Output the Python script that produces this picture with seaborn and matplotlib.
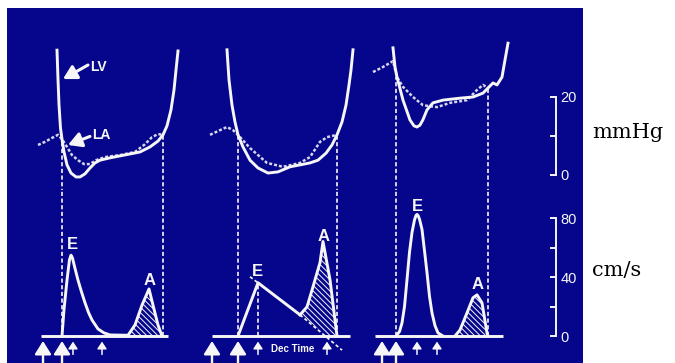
#import necessary libraries

import numpy as np
import matplotlib
matplotlib.use("Agg")
import matplotlib.pyplot as plt
import seaborn as sns

#chart data: time in ms from mitral valve opening, pressure in mmHg, flow velocity in cm/s

# panel 1 (normal)
t_lv1 = [-20, -16, -12, -6, 0, 8, 20, 36, 56, 72, 92, 112, 132, 152, 192, 232, 272, 312, 352, 384, 404, 420, 436, 448, 456, 464]
p_lv1 = [32, 24.5, 18, 12, 9.2, 5.9, 2.6, 0.5, -0.5, -0.5, 0.3, 1.8, 3.1, 3.8, 4.4, 4.9, 5.4, 5.9, 7.2, 8.7, 10.3, 12.6, 16.7, 21.8, 26.9, 31.8]
t_la1 = [-96, -68, -40, -16, 0, 20, 40, 64, 88, 112, 136, 172, 232, 292, 332, 360, 384, 404]
p_la1 = [7.7, 8.5, 9.5, 10.3, 9.2, 7.2, 5.1, 3.8, 2.8, 2.8, 3.8, 4.6, 5.1, 5.9, 7.9, 9.7, 10.5, 10.3]
t_e1 = [0, 8, 20, 30, 36, 42, 52, 64, 78, 92, 106, 120, 144, 168, 192, 264]
v_e1 = [0, 18, 38, 52, 55, 53, 46, 38, 30, 22.6, 16, 10.9, 4.8, 2.1, 0.7, 0.5]
t_a1 = [264, 292, 320, 348, 364, 384, 400]
v_a1 = [0.5, 7.5, 21, 32, 21, 7.5, 0]
a_lo1 = [0.5, 0, 0, 0, 0, 0, 0]

# panel 2 (impaired relaxation)
t_lv2 = [-44, -36, -24, -12, 0, 20, 48, 80, 120, 160, 208, 248, 288, 320, 352, 376, 396, 416, 432, 444, 452, 460]
p_lv2 = [32.1, 24.4, 17.9, 13.6, 10.3, 7.2, 3.8, 1.8, 0.5, 0.8, 2.1, 2.6, 3.1, 3.8, 5.6, 7.7, 10.3, 13.6, 17.9, 23.1, 26.9, 32.1]
t_la2 = [-112, -72, -44, -20, 0, 48, 116, 180, 248, 288, 328, 356, 396]
p_la2 = [10.3, 11.5, 12.3, 11.5, 10.3, 6.9, 3.1, 2.1, 3.1, 4.6, 8.5, 9.7, 10.3]
t_e2 = [0, 80, 248]
v_e2 = [0, 36.2, 14.4]
t_a2 = [248, 276, 300, 328, 340, 368, 396]
v_a2 = [14.4, 19.8, 33.5, 49.9, 64.3, 38.3, 0]
a_lo2 = [14.4, 10.8, 7.6, 4.0, 2.5, 0, 0]
t_dec2 = [248, 416]
v_dec2 = [14.4, -9.6]
t_dec2b = [48, 80]
v_dec2b = [40.3, 36.2]

# panel 3 (restrictive)
t_lv3 = [-12, -4, 4, 28, 56, 72, 84, 96, 108, 124, 148, 188, 256, 308, 348, 368, 388, 404, 424, 436, 448]
p_lv3 = [32.6, 27.7, 25.1, 19.2, 14.1, 12.6, 12.3, 12.8, 14.2, 16.7, 18.5, 19.2, 19.7, 20.0, 21.0, 22.3, 23.6, 23.1, 25.1, 29.5, 33.8]
t_la3 = [-92, -52, -12, 4, 28, 68, 108, 164, 216, 284, 324, 348, 368]
p_la3 = [26.4, 27.7, 29.2, 25.1, 22.6, 20.0, 17.9, 17.4, 18.5, 19.2, 21.8, 23.1, 22.3]
t_e3 = [0, 14, 24, 34, 44, 54, 64, 74, 80, 84, 88, 94, 104, 114, 124, 134, 144, 156, 168, 188]
v_e3 = [0, 3, 8.9, 20, 38.3, 57, 70.4, 79, 82, 82.7, 82, 79.5, 72.5, 58, 43.1, 27, 15.7, 7, 2.1, 0]
t_a3 = [236, 256, 284, 308, 324, 344, 364, 368]
v_a3 = [0, 4.1, 15.7, 26, 28, 22.6, 2.1, 0]
a_lo3 = [0, 0, 0, 0, 0, 0, 0, 0]

# per panel: valve opening/closing times and LA-LV crossover pressures
valve_t = [[0, 404], [0, 396], [0, 368]]
valve_p = [[9.2, 10.3], [10.3, 10.3], [25.1, 22.3]]
base_t = [[-84, 424], [-104, 448], [-84, 428]]
big_arrows = [[-76, 0], [-104, 0], [-56, 0]]
small_arrows = [[44, 160], [80, 356], [84, 164]]
e_label = [[42, 62], [76, 44], [84, 88]]
a_label = [[352, 38], [344, 68], [328, 35]]

p_ticks = [0, 10, 20]
p_ticklabels = ["0", "", "20"]
v_ticks = [0, 20, 40, 60, 80]
v_ticklabels = ["0", "", "40", "", "80"]

#styling
BLUE = "#06068c"
WHITE = "#f6f6f6"
LA_COL = "#d6d6ea"
W, H = 675, 363
plt.rcParams["font.family"] = ["Liberation Sans", "DejaVu Sans"]
plt.rcParams["hatch.linewidth"] = 0.7
plt.rcParams["hatch.color"] = WHITE

fig = plt.figure(figsize=(W / 100, H / 100), dpi=100, facecolor="white")


def px_axes(x0, y0, x1, y1):
    return fig.add_axes([x0 / W, 1 - y1 / H, (x1 - x0) / W, (y1 - y0) / H])


bg = px_axes(7, 8, 583, 363)
bg.set_facecolor(BLUE)
bg.set_xticks([])
bg.set_yticks([])
for s in bg.spines.values():
    s.set_visible(False)

P_LIM = (-(190 - 175) / 3.9, (175 - 8) / 3.9)
V_LIM = (-(363 - 336) / 1.47, (336 - 190) / 1.47)

lv = [(t_lv1, p_lv1), (t_lv2, p_lv2), (t_lv3, p_lv3)]
la = [(t_la1, p_la1), (t_la2, p_la2), (t_la3, p_la3)]
e_w = [(t_e1, v_e1), (t_e2, v_e2), (t_e3, v_e3)]
a_w = [(t_a1, v_a1, a_lo1), (t_a2, v_a2, a_lo2), (t_a3, v_a3, a_lo3)]
mvo_px = [62, 238, 396]


def curve(ax, t, y, **kw):
    sns.lineplot(x=t, y=y, ax=ax, sort=False, estimator=None, **kw)


def up_arrow(ax, t, y0, y1, big):
    if big:
        style, lw, ms = "-|>,head_length=0.8,head_width=0.5", 1.7, 10
    else:
        style, lw, ms = "-|>,head_length=0.6,head_width=0.4", 1.1, 7
    ax.annotate("", xy=(t, y1), xytext=(t, y0),
                arrowprops=dict(arrowstyle=style, color=WHITE, lw=lw,
                                mutation_scale=ms, shrinkA=0, shrinkB=0),
                annotation_clip=False)


for i in range(3):
    x0 = mvo_px[i]
    axp = px_axes(x0 - 60, 8, x0 + 120, 190)
    axv = px_axes(x0 - 60, 190, x0 + 120, 363)
    for ax, lim in [(axp, P_LIM), (axv, V_LIM)]:
        ax.set_xlim(-240, 480)
        ax.set_ylim(*lim)
        ax.patch.set_alpha(0)

    # pressures
    curve(axp, la[i][0], la[i][1], color=LA_COL, lw=1.8, linestyle=(0, (1.2, 0.8)))
    curve(axp, lv[i][0], lv[i][1], color=WHITE, lw=2.1)

    # valve events
    for t, p in zip(valve_t[i], valve_p[i]):
        axp.vlines(t, -20, p, color=WHITE, lw=1.2, linestyles=(0, (2.5, 1.5)))
        axv.vlines(t, 0, 200, color=WHITE, lw=1.2, linestyles=(0, (2.5, 1.5)))

    # mitral flow
    axv.hlines(0, base_t[i][0], base_t[i][1], color=WHITE, lw=2.1)
    curve(axv, e_w[i][0], e_w[i][1], color=WHITE, lw=2.1)
    ta, va, lo = a_w[i]
    axv.fill_between(ta, lo, va, facecolor="none", edgecolor=WHITE, hatch="\\\\\\\\\\\\", lw=0)
    curve(axv, ta, va, color=WHITE, lw=2.1)

    axv.text(e_label[i][0], e_label[i][1], "E", color=WHITE, fontsize=12,
             fontweight="bold", ha="center", va="center")
    axv.text(a_label[i][0], a_label[i][1], "A", color=WHITE, fontsize=12,
             fontweight="bold", ha="center", va="center")

    for t in big_arrows[i]:
        up_arrow(axv, t, V_LIM[0], -3.4, True)
    for t in small_arrows[i]:
        up_arrow(axv, t, -12.5, -3.8, False)

    if i == 0:
        axp.annotate("", xy=(4, 24.6), xytext=(104, 28.2),
                     arrowprops=dict(arrowstyle="-|>,head_length=0.8,head_width=0.45",
                                     color=WHITE, lw=2.2, mutation_scale=10,
                                     shrinkA=0, shrinkB=0))
        axp.text(112, 27.8, "LV", color=WHITE, fontsize=10, fontweight="bold",
                 ha="left", va="center")
        axp.annotate("", xy=(24, 7.7), xytext=(112, 9.9),
                     arrowprops=dict(arrowstyle="-|>,head_length=0.8,head_width=0.45",
                                     color=WHITE, lw=2.2, mutation_scale=10,
                                     shrinkA=0, shrinkB=0))
        axp.text(122, 10.3, "LA", color=WHITE, fontsize=10, fontweight="bold",
                 ha="left", va="center")
    if i == 1:
        curve(axv, t_dec2, v_dec2, color=WHITE, lw=1.2, linestyle=(0, (2, 1.5)))
        curve(axv, t_dec2b, v_dec2b, color=WHITE, lw=1.2, linestyle=(0, (2, 1.5)))
        axv.vlines(e_w[i][0][1], 0, e_w[i][1][1], color=WHITE, lw=1.2,
                   linestyles=(0, (2.5, 1.5)))
        axv.text(220, -8.8, "Dec Time", color=WHITE, fontsize=7,
                 fontweight="bold", ha="center", va="center")

    axp.axis("off")
    axv.axis("off")

#scale bars
for (y0, y1), lim, ticks, labels, unit, uy in [
        ((8, 190), P_LIM, p_ticks, p_ticklabels, "mmHg", 133),
        ((190, 363), V_LIM, v_ticks, v_ticklabels, "cm/s", 270)]:
    sax = px_axes(530, y0, 556, y1)
    sax.set_ylim(*lim)
    sax.patch.set_alpha(0)
    sax.set_xticks([])
    for name, s in sax.spines.items():
        s.set_visible(name == "right")
    sax.spines["right"].set_color(WHITE)
    sax.spines["right"].set_linewidth(1.4)
    sax.spines["right"].set_bounds(ticks[0], ticks[-1])
    sax.yaxis.tick_right()
    sax.set_yticks(ticks)
    sax.set_yticklabels(labels)
    sax.tick_params(axis="y", direction="in", length=4.5, width=1.4,
                    colors=WHITE, labelsize=10.5, pad=3)
    fig.text(592 / W, 1 - uy / H, unit, fontsize=15, family="DejaVu Serif",
             color="black", ha="left", va="center")

plt.savefig("out.png", dpi=100, facecolor="white")
